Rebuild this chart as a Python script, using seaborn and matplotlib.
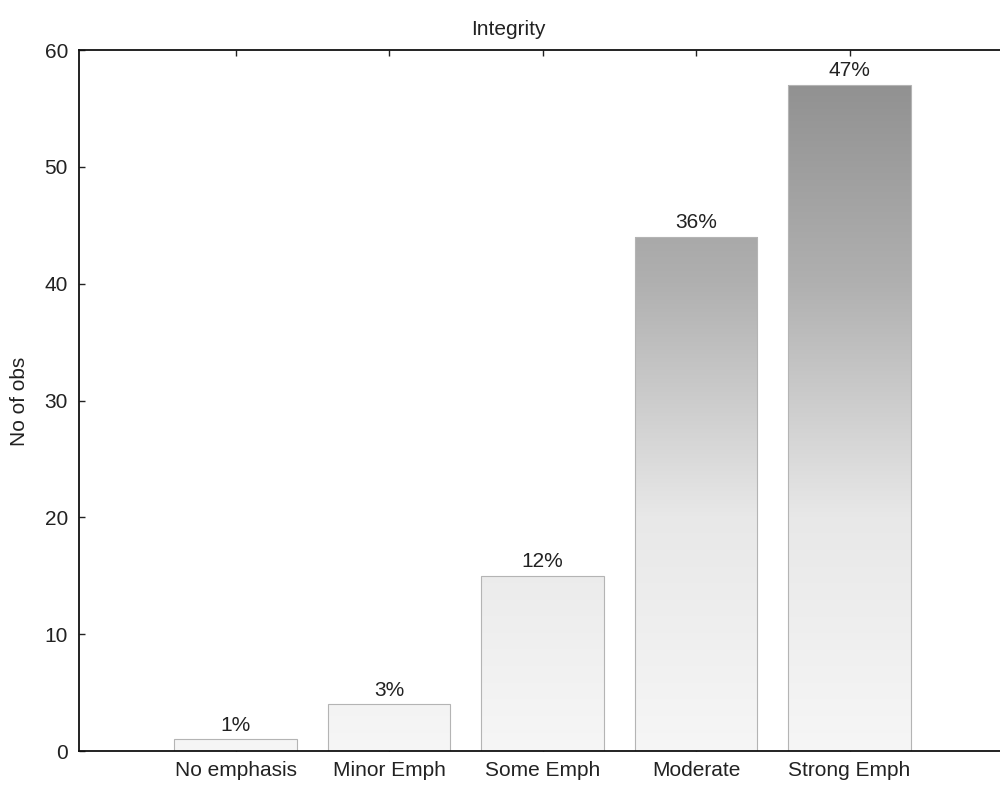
import matplotlib
matplotlib.use("Agg")
import matplotlib.pyplot as plt
import numpy as np
import pandas as pd
import seaborn as sns
from matplotlib.colors import LinearSegmentedColormap

categories = ["No emphasis", "Minor Emph", "Some Emph", "Moderate", "Strong Emph"]
counts = [1, 4, 15, 44, 57]
pct_labels = ["1%", "3%", "12%", "36%", "47%"]
y_ticks = [0, 10, 20, 30, 40, 50, 60]

sns.set_style("white")
plt.rcParams['font.family'] = ['Liberation Sans', 'DejaVu Sans']

df = pd.DataFrame({"category": categories, "count": counts})

fig = plt.figure(figsize=(10, 7.94), dpi=100)
ax = fig.add_axes([0.079, 0.054, 0.921, 0.883])

sns.barplot(data=df, x="category", y="count", ax=ax, width=0.8,
            color="#cccccc", edgecolor="#b4b4b4", linewidth=0.8, saturation=1)

cmap = LinearSegmentedColormap.from_list("g", ["#f6f6f6", "#e8e8e8", "#b0b0b0", "#8c8c8c"])
grad = np.linspace(0, 1, 256).reshape(-1, 1)
for patch in ax.patches:
    patch.set_facecolor("none")
    x0 = patch.get_x()
    w = patch.get_width()
    im = ax.imshow(grad, extent=(x0, x0 + w, 0, 60), origin="lower", aspect="auto",
                   cmap=cmap, zorder=patch.get_zorder() - 0.1)
    im.set_clip_path(patch)
ax.set_xlim(-1.02, 4.98)
ax.set_ylim(0, 60)

for patch, lab in zip(ax.patches, pct_labels):
    ax.text(patch.get_x() + patch.get_width() / 2, patch.get_height() + 0.4, lab,
            ha="center", va="bottom", fontsize=15, color="#222222")

ax.set_yticks(y_ticks)
ax.tick_params(axis="both", direction="in", length=4, width=1, labelsize=15,
               colors="#222222", top=True, bottom=True, left=True)
ax.tick_params(axis="x", pad=7)
ax.tick_params(axis="y", pad=8)
for s in ["left", "bottom", "top"]:
    ax.spines[s].set_color("#111111")
    ax.spines[s].set_linewidth(1.3)
ax.spines["right"].set_visible(False)

ax.set_xlabel("")
ax.set_ylabel("")
fig.text(0.020, 0.494, "No of obs", rotation=90, ha="center", va="center",
         fontsize=15, color="#222222")
fig.text(0.508, 0.963, "Integrity", ha="center", va="center",
         fontsize=15, color="#222222")

fig.savefig("out.png", dpi=100)
